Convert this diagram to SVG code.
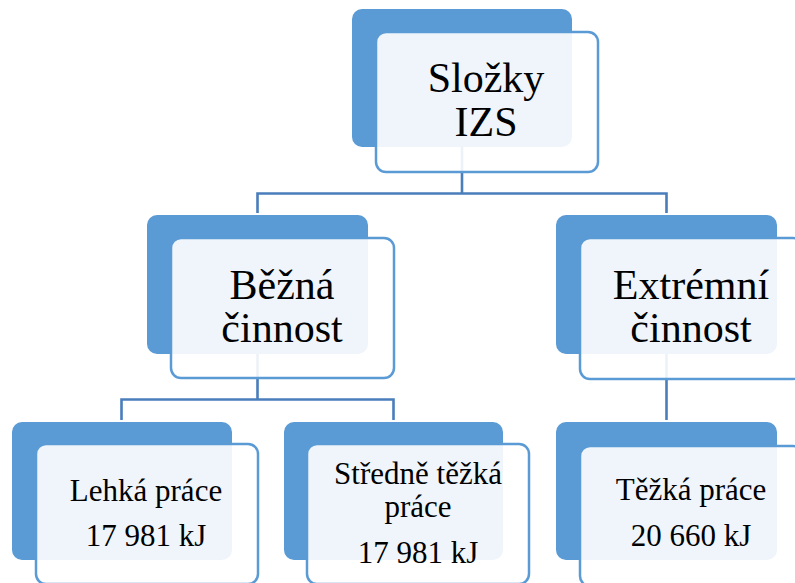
<svg xmlns="http://www.w3.org/2000/svg" width="795" height="583" viewBox="0 0 795 583">
  <style>
    .back { fill: #5B9BD5; }
    .front { fill: #FFFFFF; fill-opacity: 0.9; stroke: #5B9BD5; stroke-width: 2.5; }
    .conn { fill: none; stroke: #4A7EBB; stroke-width: 2.6; }
    .lbl { font-family: "Liberation Serif", serif; fill: #000000; text-anchor: middle; }
    .big { font-size: 42px; }
    .small { font-size: 31px; }
  </style>
  <rect width="795" height="583" fill="#FFFFFF"/>

  <!-- connectors (drawn beneath the boxes) -->
  <g id="connectors">
    <path class="conn" d="M462 147 V193.5 M257.5 213 V193.5 H666.5 V213"/>
    <path class="conn" d="M257.5 354 V399.5 M121.5 420 V399.5 H393.5 V420"/>
    <path class="conn" d="M666.5 354 V420"/>
  </g>

  <g id="node-slozky">
    <rect class="back" x="352" y="9" width="220" height="138" rx="10"/>
    <rect class="front" x="376" y="32" width="222" height="140" rx="10"/>
    <text class="lbl big" x="486" y="92">Složky</text>
    <text class="lbl big" x="486" y="136">IZS</text>
  </g>

  <g id="node-bezna">
    <rect class="back" x="147" y="215" width="221" height="139" rx="10"/>
    <rect class="front" x="171" y="238" width="223" height="140" rx="10"/>
    <text class="lbl big" x="282" y="299">Běžná</text>
    <text class="lbl big" x="282" y="342">činnost</text>
  </g>

  <g id="node-extremni">
    <rect class="back" x="556" y="215" width="221" height="139" rx="10"/>
    <rect class="front" x="580" y="238" width="223" height="141" rx="10"/>
    <text class="lbl big" x="691" y="299">Extrémní</text>
    <text class="lbl big" x="691" y="342">činnost</text>
  </g>

  <g id="node-lehka">
    <rect class="back" x="12" y="422" width="220" height="138" rx="10"/>
    <rect class="front" x="36" y="444" width="222" height="140" rx="10"/>
    <text class="lbl small" x="146" y="501">Lehká práce</text>
    <text class="lbl small" x="146" y="546">17 981 kJ</text>
  </g>

  <g id="node-stredne">
    <rect class="back" x="284" y="422" width="219" height="138" rx="10"/>
    <rect class="front" x="307" y="444" width="222" height="140" rx="10"/>
    <text class="lbl small" x="418" y="484">Středně těžká</text>
    <text class="lbl small" x="418" y="517">práce</text>
    <text class="lbl small" x="418" y="563">17 981 kJ</text>
  </g>

  <g id="node-tezka">
    <rect class="back" x="556" y="422" width="221" height="138" rx="10"/>
    <rect class="front" x="580" y="446" width="223" height="140" rx="10"/>
    <text class="lbl small" x="691" y="500">Těžká práce</text>
    <text class="lbl small" x="691" y="546">20 660 kJ</text>
  </g>
</svg>
